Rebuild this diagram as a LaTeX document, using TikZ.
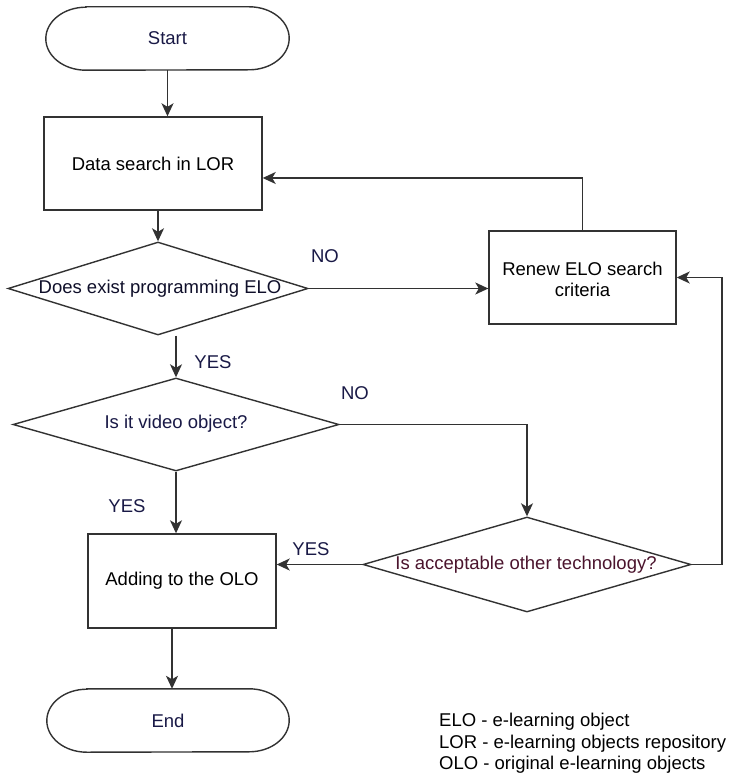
\documentclass[tikz,border=0pt]{standalone}
\usepackage{fontspec}
\setmainfont{Liberation Sans}
\usetikzlibrary{arrows.meta,shapes.geometric}

\definecolor{linegray}{RGB}{50,50,50}
\definecolor{navytext}{RGB}{25,25,70}
\definecolor{maroontext}{RGB}{75,20,45}

\tikzset{
  flow/.style={draw=linegray, line width=1.4pt},
  arr/.style={flow, -{Stealth[length=13pt,width=12pt,inset=3.5pt]}},
  procbox/.style={flow, rectangle, inner sep=0pt},
  decision/.style={flow, diamond, inner sep=0pt},
  terminal/.style={rectangle, inner sep=0pt},
  lbl/.style={font=\fontsize{18.5}{21.5}\selectfont},
}

% stadium outline with elliptical ends around a terminal node
\newcommand{\terminalpath}[1]{%
  \draw[flow] ([xshift=40pt]#1.north west) -- ([xshift=-40pt]#1.north east)
    arc[start angle=90, end angle=-90, x radius=40pt, y radius=31.5pt]
    -- ([xshift=40pt]#1.south west)
    arc[start angle=270, end angle=90, x radius=40pt, y radius=31.5pt]
    -- cycle;}

\begin{document}
\begin{tikzpicture}[x=1pt, y=-1pt]
  \useasboundingbox[fill=white] (0,0) rectangle (732,775);

  % terminals
  \node[terminal, minimum width=243pt, minimum height=63pt] (start) at (167.5,38.5) {};
  \terminalpath{start}
  \node[lbl, text=navytext] (startT) at (start) {Start};

  \node[terminal, minimum width=242pt, minimum height=63pt] (end) at (168,720.5) {};
  \terminalpath{end}
  \node[lbl, text=navytext] (endT) at (end) {End};

  % process boxes
  \node[procbox, minimum width=218pt, minimum height=93pt] (data) at (153,163.5) {};
  \node[lbl] (dataT) at (data) {Data search in LOR};

  \node[procbox, minimum width=187pt, minimum height=93pt] (renew) at (582.5,277.5) {};
  \node[lbl, align=center] (renewT) at (582.5,279.5) {Renew ELO search\\criteria};

  \node[procbox, minimum width=188pt, minimum height=94pt] (add) at (182,581) {};
  \node[lbl] (addT) at (add) {Adding to the OLO};

  % decisions
  \node[decision, minimum width=300pt, minimum height=93pt] (d1) at (158,288.5) {};
  \node[lbl, text=navytext!60!black] (d1T) at (160,288.5) {Does exist programming ELO};

  \node[decision, minimum width=326pt, minimum height=93pt] (d2) at (176,424.5) {};
  \node[lbl, text=navytext] (d2T) at (176,424) {Is it video object?};

  \node[decision, minimum width=328pt, minimum height=95pt] (d3) at (527,564.5) {};
  \node[lbl, text=maroontext] (d3T) at (526,565) {Is acceptable other technology?};

  % connectors
  \coordinate (loopR) at (722,0);
  \draw[arr] (start.south) -- (start.south |- data.north);
  \draw[arr] (d1.north |- data.south) -- (d1.north);
  \draw[arr] (d1.east) -- (d1.east -| renew.west);
  \draw[arr] (renew.north) |- ([yshift=-14.5pt]data.east);
  \draw[arr] (d2.north |- d1.south) -- (d2.north);
  \draw[arr] (d2.east) -| (d3.north);
  \draw[arr] (d2.south) -- (d2.south |- add.north);
  \draw[arr] (d3.west) -- (d3.west -| add.east);
  \draw[arr] (d3.east) -| (loopR |- renew.east) -- (renew.east);
  \draw[arr] ([xshift=-10pt]add.south) -- ([xshift=-10pt]add.south |- end.north);

  % branch labels
  \node[lbl, text=navytext] (no1) at (325,256) {NO};
  \node[lbl, text=navytext] (yes1) at (213,362) {YES};
  \node[lbl, text=navytext] (no2) at (355,393) {NO};
  \node[lbl, text=navytext] (yes2) at (127,506) {YES};
  \node[lbl, text=navytext] (yes3) at (311,549) {YES};

  % abbreviations
  \node[lbl, anchor=west, align=left, inner sep=0pt] (legend) at (439,743.5)
    {ELO - e-learning object\\LOR - e-learning objects repository\\OLO - original e-learning objects};
\end{tikzpicture}
\end{document}
